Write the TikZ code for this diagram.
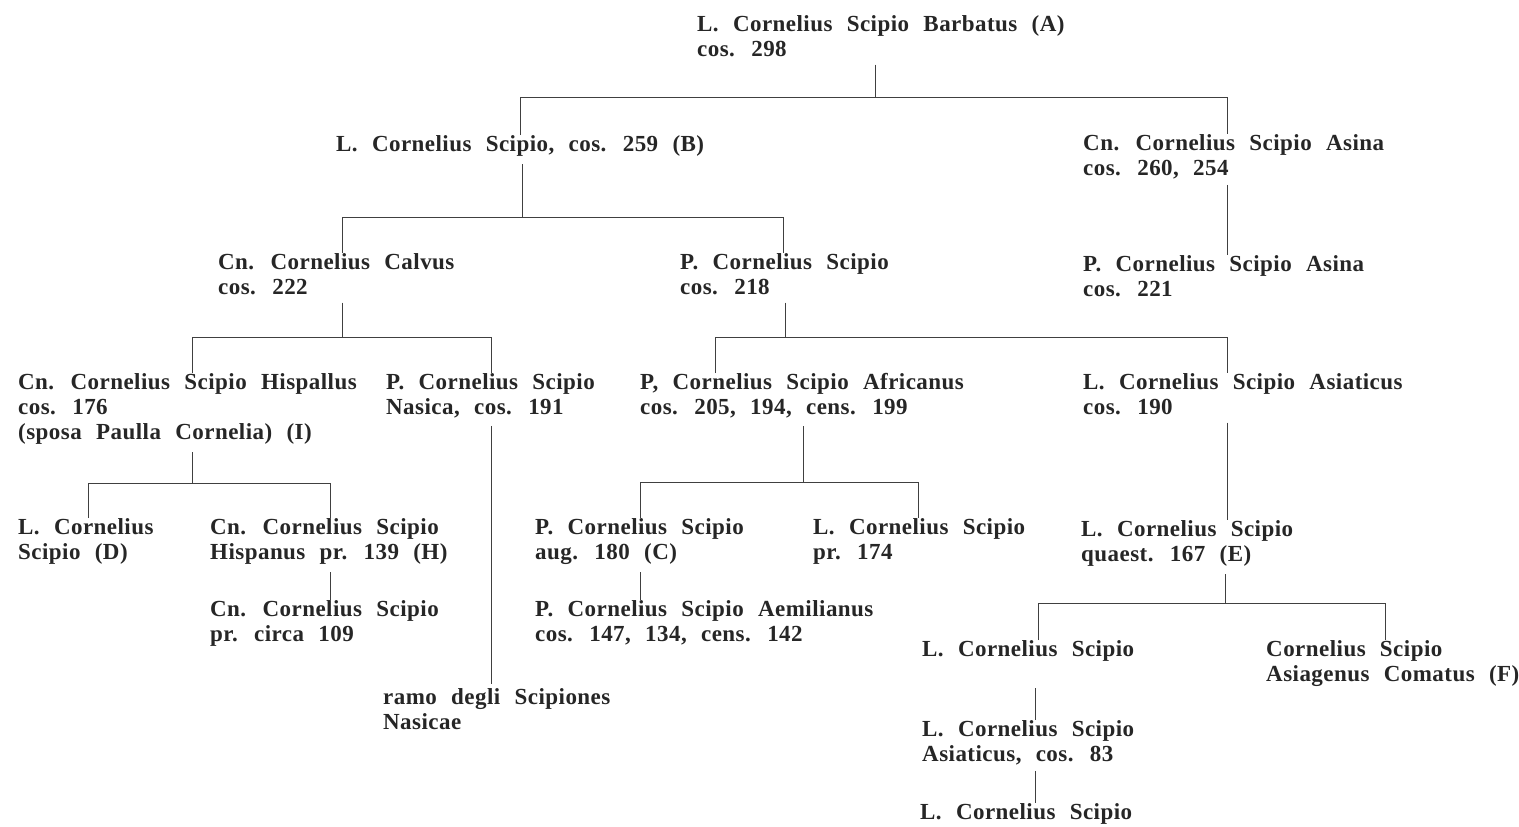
\documentclass[tikz,border=0pt]{standalone}
\usepackage{fontspec}
\setmainfont{Liberation Serif}[LetterSpace=2,WordSpace=2.3]
\begin{document}
\begin{tikzpicture}[x=1pt,y=-1pt,
    pers/.style={anchor=north west,inner sep=0pt,align=left,text=black!85,
      font=\fontsize{23}{25}\selectfont\bfseries},
    link/.style={black!75,line width=0.9pt}]
  \useasboundingbox[fill=white] (0,0) rectangle (1519,827);
  \node[pers] (A) at (697,15) {L. Cornelius Scipio Barbatus (A)\\cos. 298};
  \node[pers] (B) at (336,135) {L. Cornelius Scipio, cos. 259 (B)};
  \node[pers] (Asina) at (1083,134) {Cn. Cornelius Scipio Asina\\cos. 260, 254};
  \node[pers] (Calvus) at (218,253) {Cn. Cornelius Calvus\\cos. 222};
  \node[pers] (PScip) at (680,253) {P. Cornelius Scipio\\cos. 218};
  \node[pers] (PAsina) at (1083,255) {P. Cornelius Scipio Asina\\cos. 221};
  \node[pers] (Hisp) at (18,373) {Cn. Cornelius Scipio Hispallus\\cos. 176\\(sposa Paulla Cornelia) (I)};
  \node[pers] (Nasica) at (386,373) {P. Cornelius Scipio\\Nasica, cos. 191};
  \node[pers] (Afr) at (640,373) {P, Cornelius Scipio Africanus\\cos. 205, 194, cens. 199};
  \node[pers] (Asiat) at (1083,373) {L. Cornelius Scipio Asiaticus\\cos. 190};
  \node[pers] (D) at (18,518) {L. Cornelius\\Scipio (D)};
  \node[pers] (H) at (210,518) {Cn. Cornelius Scipio\\Hispanus pr. 139 (H)};
  \node[pers] (Circa) at (210,600) {Cn. Cornelius Scipio\\pr. circa 109};
  \node[pers] (Ramo) at (383,688) {ramo degli Scipiones\\Nasicae};
  \node[pers] (C) at (535,518) {P. Cornelius Scipio\\aug. 180 (C)};
  \node[pers] (Pr) at (813,518) {L. Cornelius Scipio\\pr. 174};
  \node[pers] (Aemil) at (535,600) {P. Cornelius Scipio Aemilianus\\cos. 147, 134, cens. 142};
  \node[pers] (E) at (1081,520) {L. Cornelius Scipio\\quaest. 167 (E)};
  \node[pers] (LCS) at (922,640) {L. Cornelius Scipio};
  \node[pers] (F) at (1266,640) {Cornelius Scipio\\Asiagenus Comatus (F)};
  \node[pers] (Asi83) at (922,720) {L. Cornelius Scipio\\Asiaticus, cos. 83};
  \node[pers] (Last) at (920,803) {L. Cornelius Scipio};
  \coordinate (jA) at (875,97); \coordinate (a1) at (520,97); \coordinate (a2) at (1227,97);
  \coordinate (jB) at (522,217); \coordinate (b1) at (342,217); \coordinate (b2) at (783,217);
  \coordinate (jCa) at (342,337); \coordinate (c1) at (192,337); \coordinate (c2) at (491,337);
  \coordinate (jP) at (785,337); \coordinate (p1) at (715,337); \coordinate (p2) at (1227,337);
  \coordinate (jH) at (192,483); \coordinate (h1) at (88,483); \coordinate (h2) at (330,483);
  \coordinate (jAf) at (803,482); \coordinate (f1) at (640,482); \coordinate (f2) at (918,482);
  \coordinate (jE) at (1225,603); \coordinate (e1) at (1038,603); \coordinate (e2) at (1385,603);
  \coordinate (jL) at (1035,688);
  \draw[link] ([yshift=-8pt]A.south -| jA) -- (jA);
  \draw[link] (a1 |- B.north) -- (a1) -- (a2) -- (a2 |- Asina.north);
  \draw[link] ([yshift=-8pt]B.south -| jB) -- (jB);
  \draw[link] (b1 |- Calvus.north) -- (b1) -- (b2) -- (b2 |- PScip.north);
  \draw[link] ([yshift=-6pt]Asina.south -| a2) -- (a2 |- PAsina.north);
  \draw[link] ([yshift=-8pt]Calvus.south -| jCa) -- (jCa);
  \draw[link] (c1 |- Hisp.north) -- (c1) -- (c2) -- (c2 |- Nasica.north);
  \draw[link] ([yshift=-8pt]PScip.south -| jP) -- (jP);
  \draw[link] (p1 |- Afr.north) -- (p1) -- (p2) -- (p2 |- Asiat.north);
  \draw[link] ([yshift=-8pt]Hisp.south -| jH) -- (jH);
  \draw[link] (h1 |- D.north) -- (h1) -- (h2) -- (h2 |- H.north);
  \draw[link] ([yshift=-8pt]H.south -| h2) -- (h2 |- Circa.north);
  \draw[link] ([yshift=-8pt]Nasica.south -| c2) -- ([yshift=4pt]c2 |- Ramo.north);
  \draw[link] ([yshift=-8pt]Afr.south -| jAf) -- (jAf);
  \draw[link] (f1 |- C.north) -- (f1) -- (f2) -- (f2 |- Pr.north);
  \draw[link] ([yshift=-8pt]C.south -| f1) -- (f1 |- Aemil.north);
  \draw[link] ([yshift=-8pt]Asiat.south -| p2) -- (p2 |- E.north);
  \draw[link] ([yshift=-8pt]E.south -| jE) -- (jE);
  \draw[link] (e1 |- LCS.north) -- (e1) -- (e2) -- (e2 |- F.north);
  \draw[link] (jL) -- (jL |- Asi83.north);
  \draw[link] ([yshift=-6pt]Asi83.south -| jL) -- (jL |- Last.north);
\end{tikzpicture}
\end{document}
